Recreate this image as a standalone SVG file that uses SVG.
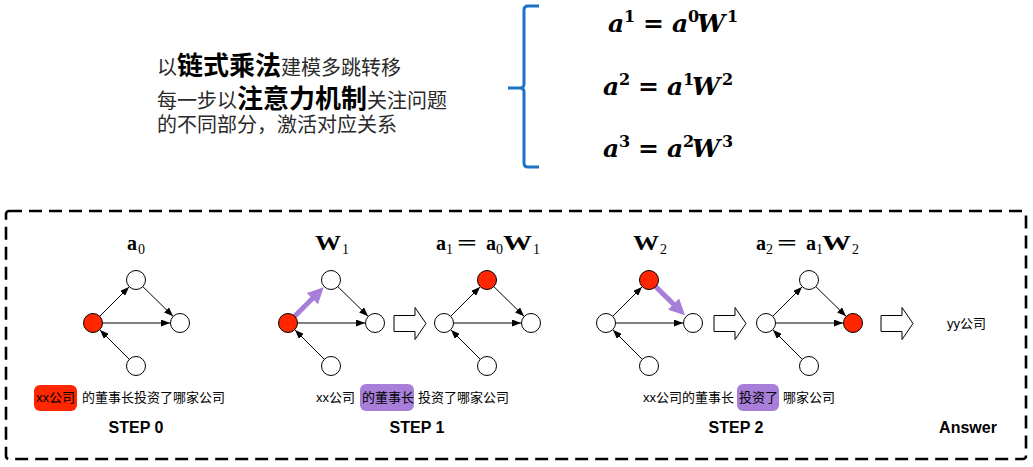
<svg xmlns="http://www.w3.org/2000/svg" width="1033" height="467" viewBox="0 0 1033 467">
<defs>
<style>
.cn{font-family:"Noto Sans CJK SC","Liberation Sans",sans-serif;font-size:20px;fill:#2a2a2a}
.cnb{font-weight:bold;font-size:26px;fill:#000}
.eq{font-family:"DejaVu Serif",serif;font-weight:bold;font-style:italic;font-size:25px;fill:#000}
.sup{font-size:16px;font-style:normal}
.up{font-style:normal}
.m{font-family:"Liberation Serif","DejaVu Serif",serif;font-weight:bold;font-size:20px;fill:#000}
.ms{font-family:"Liberation Serif","DejaVu Serif",serif;font-size:14px;fill:#000}
.lbl{font-family:"Liberation Sans","Noto Sans CJK SC",sans-serif;font-size:13px;fill:#000}
.step{font-family:"Liberation Sans",sans-serif;font-weight:bold;font-size:16px;fill:#000;text-anchor:middle}
.node{fill:#fff;stroke:#000;stroke-width:1}
.act{fill:#FF2600;stroke:#000;stroke-width:1}
.edge{stroke:#000;stroke-width:1;fill:none;marker-end:url(#ah)}
.pedge{stroke:#A77ED8;stroke-width:5;fill:none;marker-end:url(#ph)}
.block{fill:#fff;stroke:#000;stroke-width:1}
</style>
<marker id="ah" markerUnits="userSpaceOnUse" markerWidth="9" markerHeight="7" refX="9" refY="3.5" orient="auto"><path d="M0,0 L9,3.5 L0,7 z" fill="#000"/></marker>
<marker id="ph" markerUnits="userSpaceOnUse" markerWidth="16" markerHeight="16" refX="5" refY="8" orient="auto"><path d="M0,0 L16,8 L0,16 z" fill="#A77ED8"/></marker>
</defs>
<rect width="1033" height="467" fill="#fff"/>

<g id="intro-text">
<text class="cn" x="157" y="75">以<tspan class="cnb">链式乘法</tspan>建模多跳转移</text>
<text class="cn" x="157" y="108">每一步以<tspan class="cnb">注意力机制</tspan>关注问题</text>
<text class="cn" x="157" y="132">的不同部分，激活对应关系</text>
</g>

<g id="brace">
<path d="M539,6 H528 Q524,6 524,10 V84 Q524,88 520,88 H508 M520,88 Q524,88 524,92 V163 Q524,167 528,167 H539" fill="none" stroke="#1F73C4" stroke-width="3"/>
</g>

<g id="formulas">
<text class="eq" y="32"><tspan x="608">a</tspan><tspan class="sup" x="624" dy="-10">1</tspan><tspan class="up" x="643" dy="10">=</tspan><tspan x="672">a</tspan><tspan class="sup" x="688" dy="-10">0</tspan><tspan x="697" dy="10">W</tspan><tspan class="sup" x="727" dy="-10">1</tspan></text>
<text class="eq" y="95"><tspan x="603">a</tspan><tspan class="sup" x="619" dy="-10">2</tspan><tspan class="up" x="638" dy="10">=</tspan><tspan x="667">a</tspan><tspan class="sup" x="683" dy="-10">1</tspan><tspan x="692" dy="10">W</tspan><tspan class="sup" x="722" dy="-10">2</tspan></text>
<text class="eq" y="157"><tspan x="603">a</tspan><tspan class="sup" x="619" dy="-10">3</tspan><tspan class="up" x="638" dy="10">=</tspan><tspan x="667">a</tspan><tspan class="sup" x="683" dy="-10">2</tspan><tspan x="692" dy="10">W</tspan><tspan class="sup" x="722" dy="-10">3</tspan></text>
</g>

<g id="frame">
<rect x="6" y="211" width="1020" height="248" rx="3" fill="none" stroke="#000" stroke-width="2.6" stroke-dasharray="13,7"/>
</g>

<g id="math-labels">
<text class="m" x="127" y="250">a</text><text class="ms" x="138" y="254">0</text>
<text class="m" x="315" y="250" textLength="26" lengthAdjust="spacingAndGlyphs">W</text><text class="ms" x="342" y="254">1</text>
<text class="m" x="436" y="250">a</text><text class="ms" x="446" y="254">1</text>
<text class="m" x="457" y="250" textLength="20" lengthAdjust="spacingAndGlyphs">=</text>
<text class="m" x="486" y="250">a</text><text class="ms" x="496" y="254">0</text>
<text class="m" x="503" y="250" textLength="29" lengthAdjust="spacingAndGlyphs">W</text><text class="ms" x="533" y="254">1</text>
<text class="m" x="633" y="250" textLength="26" lengthAdjust="spacingAndGlyphs">W</text><text class="ms" x="660" y="254">2</text>
<text class="m" x="756" y="250">a</text><text class="ms" x="766" y="254">2</text>
<text class="m" x="777" y="250" textLength="20" lengthAdjust="spacingAndGlyphs">=</text>
<text class="m" x="806" y="250">a</text><text class="ms" x="816" y="254">1</text>
<text class="m" x="822" y="250" textLength="29" lengthAdjust="spacingAndGlyphs">W</text><text class="ms" x="852" y="254">2</text>
</g>

<g id="connectors">
<line class="edge" x1="99.7" y1="316.3" x2="129" y2="287"/>
<line class="edge" x1="142.8" y1="286.6" x2="173" y2="316.2"/>
<line class="edge" x1="102.5" y1="323" x2="170" y2="323"/>
<line class="edge" x1="129.3" y1="359.3" x2="100" y2="330"/>
<line class="pedge" x1="293" y1="318" x2="315.9" y2="295.1"/>
<line class="edge" x1="337.8" y1="286.6" x2="368" y2="316.2"/>
<line class="edge" x1="297.5" y1="323" x2="365" y2="323"/>
<line class="edge" x1="324.3" y1="359.3" x2="295" y2="330"/>
<line class="edge" x1="450.7" y1="316.3" x2="480" y2="287"/>
<line class="edge" x1="493.8" y1="286.6" x2="524" y2="316.2"/>
<line class="edge" x1="453.5" y1="323" x2="521" y2="323"/>
<line class="edge" x1="480.3" y1="359.3" x2="451" y2="330"/>
<line class="edge" x1="612.7" y1="316.3" x2="642" y2="287"/>
<line class="pedge" x1="654" y1="285" x2="677.1" y2="307.6"/>
<line class="edge" x1="615.5" y1="323" x2="683" y2="323"/>
<line class="edge" x1="642.3" y1="359.3" x2="613" y2="330"/>
<line class="edge" x1="772.7" y1="316.3" x2="802" y2="287"/>
<line class="edge" x1="815.8" y1="286.6" x2="846" y2="316.2"/>
<line class="edge" x1="775.5" y1="323" x2="843" y2="323"/>
<line class="edge" x1="802.3" y1="359.3" x2="773" y2="330"/>
<path class="block" d="M394,315.5 H415 V307.5 L426,323.5 L415,339.5 V331.5 H394 Z"/>
<path class="block" d="M714,315.5 H735 V307.5 L746,323.5 L735,339.5 V331.5 H714 Z"/>
<path class="block" d="M881,315.5 H902 V307.5 L913,323.5 L902,339.5 V331.5 H881 Z"/>
</g>

<g id="g0-L"><circle class="act" cx="93" cy="323" r="9.5"/></g>
<g id="g0-T"><circle class="node" cx="136" cy="280" r="9.5"/></g>
<g id="g0-R"><circle class="node" cx="180" cy="323" r="9.5"/></g>
<g id="g0-B"><circle class="node" cx="136" cy="366" r="9.5"/></g>

<g id="g1-L"><circle class="act" cx="288" cy="323" r="9.5"/></g>
<g id="g1-T"><circle class="node" cx="331" cy="280" r="9.5"/></g>
<g id="g1-R"><circle class="node" cx="375" cy="323" r="9.5"/></g>
<g id="g1-B"><circle class="node" cx="331" cy="366" r="9.5"/></g>

<g id="g2-L"><circle class="node" cx="444" cy="323" r="9.5"/></g>
<g id="g2-T"><circle class="act" cx="487" cy="280" r="9.5"/></g>
<g id="g2-R"><circle class="node" cx="531" cy="323" r="9.5"/></g>
<g id="g2-B"><circle class="node" cx="487" cy="366" r="9.5"/></g>

<g id="g3-L"><circle class="node" cx="606" cy="323" r="9.5"/></g>
<g id="g3-T"><circle class="act" cx="649" cy="280" r="9.5"/></g>
<g id="g3-R"><circle class="node" cx="693" cy="323" r="9.5"/></g>
<g id="g3-B"><circle class="node" cx="649" cy="366" r="9.5"/></g>

<g id="g4-L"><circle class="node" cx="766" cy="323" r="9.5"/></g>
<g id="g4-T"><circle class="node" cx="809" cy="280" r="9.5"/></g>
<g id="g4-R"><circle class="act" cx="853" cy="323" r="9.5"/></g>
<g id="g4-B"><circle class="node" cx="809" cy="366" r="9.5"/></g>

<g id="answer"><text class="lbl" x="947" y="328">yy公司</text></g>

<g id="sentence0">
<rect x="34" y="385" width="43" height="26" rx="6" fill="#FF2600"/>
<text class="lbl" x="36" y="402">xx公司</text>
<text class="lbl" x="82" y="402">的董事长投资了哪家公司</text>
</g>
<g id="sentence1">
<text class="lbl" x="316" y="402">xx公司</text>
<rect x="360" y="384" width="54" height="27" rx="6" fill="#A77ED8"/>
<text class="lbl" x="362" y="402">的董事长</text>
<text class="lbl" x="418" y="402">投资了哪家公司</text>
</g>
<g id="sentence2">
<text class="lbl" x="643" y="402">xx公司的董事长</text>
<rect x="737" y="384" width="42" height="27" rx="6" fill="#A77ED8"/>
<text class="lbl" x="739" y="402">投资了</text>
<text class="lbl" x="783" y="402">哪家公司</text>
</g>

<g id="steps">
<text class="step" x="136" y="433">STEP 0</text>
<text class="step" x="417" y="433">STEP 1</text>
<text class="step" x="736" y="433">STEP 2</text>
<text class="step" x="968" y="433">Answer</text>
</g>
</svg>
